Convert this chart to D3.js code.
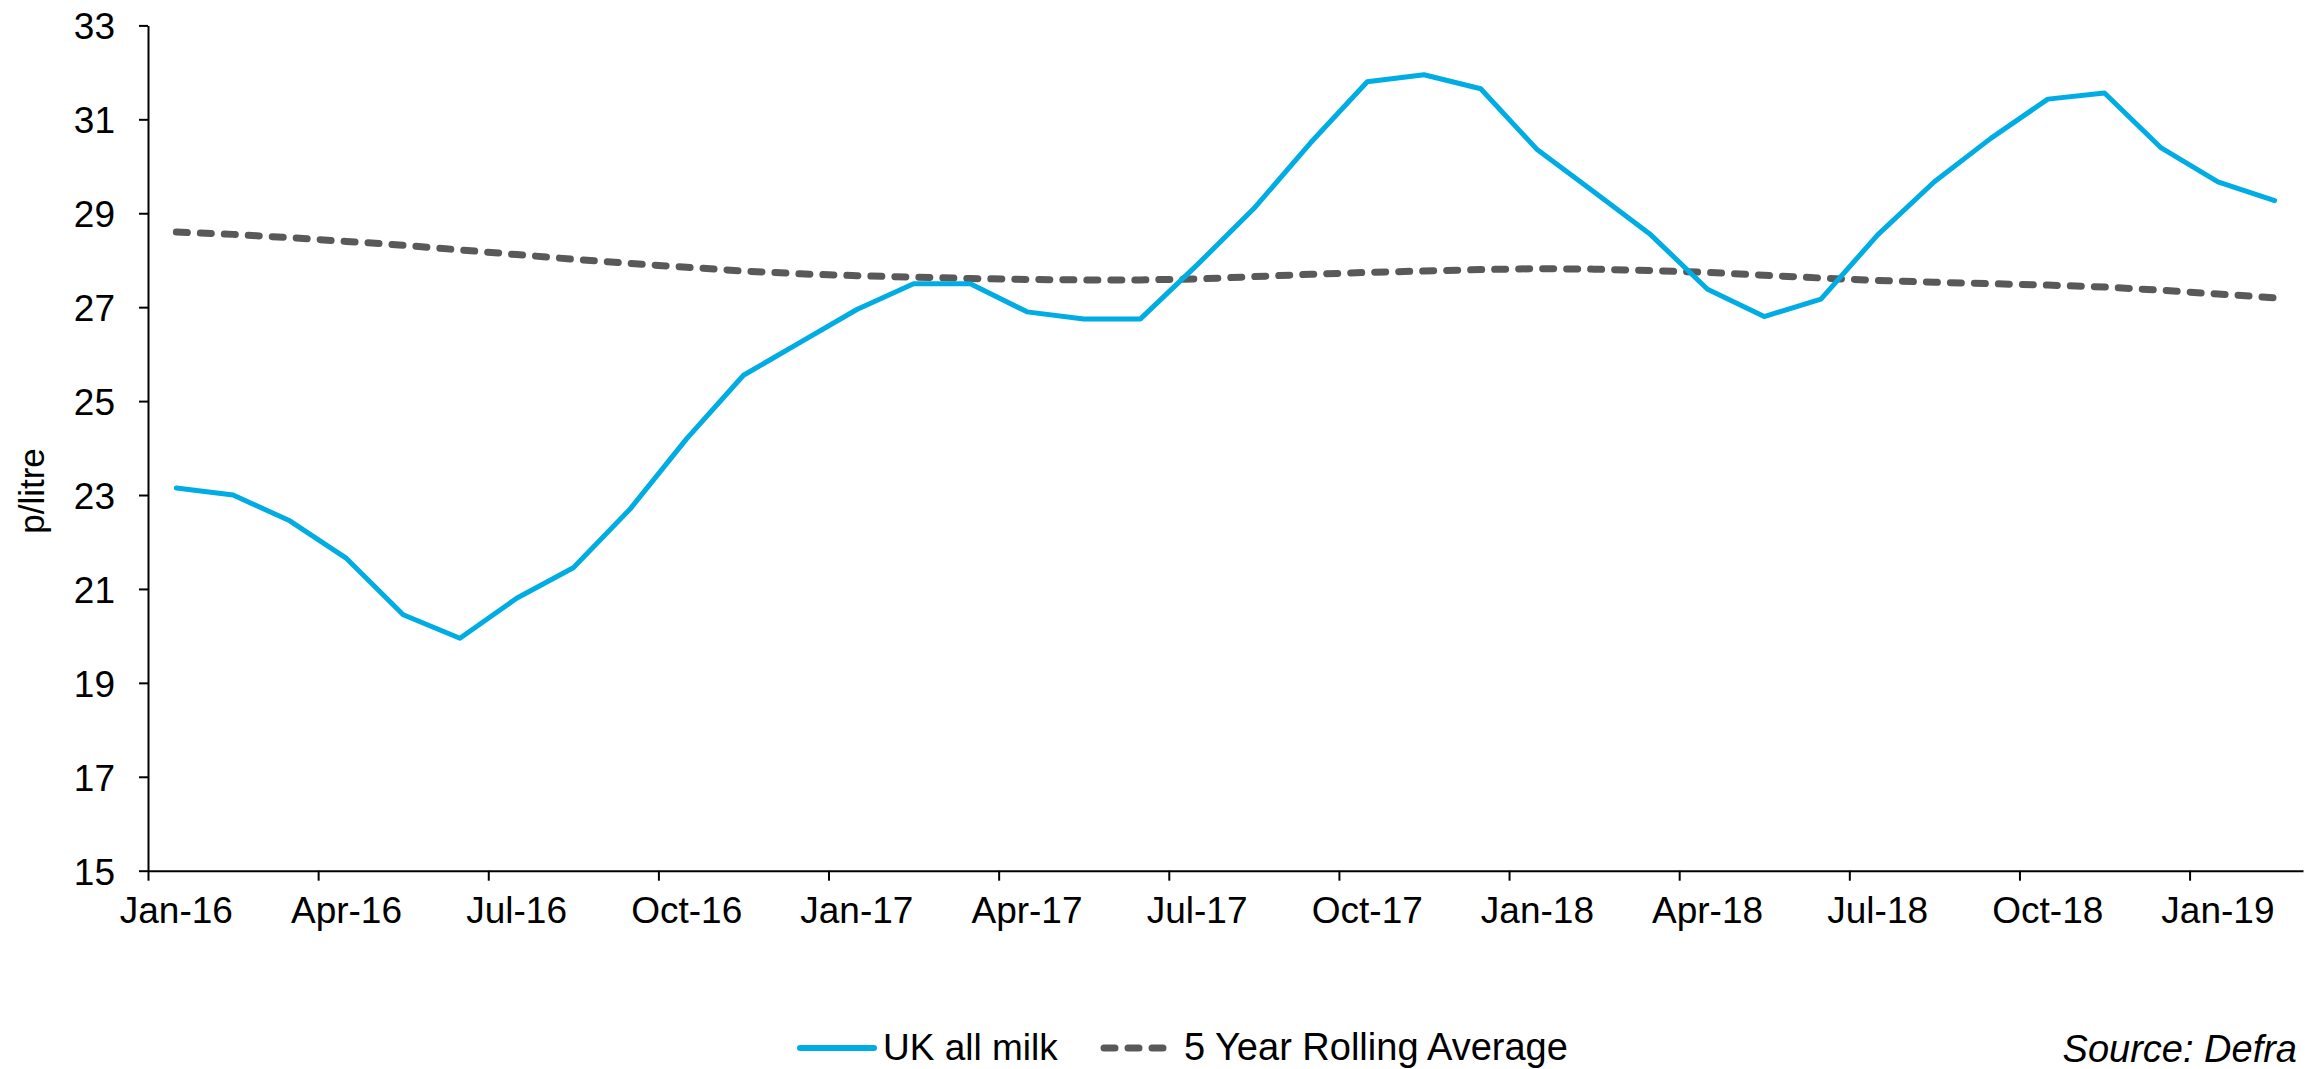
<!DOCTYPE html>
<html>
<head>
<meta charset="utf-8">
<script src="https://cdn.jsdelivr.net/npm/d3@7"></script>
<style>
  body { margin: 0; background: #fff; }
  svg text { font-family: "Liberation Sans", Arial, sans-serif; fill: #000; }
</style>
</head>
<body>
<svg id="chart"></svg>
<script>
// monthly categories Jan-16 .. Feb-19
var months = ["Jan-16","Feb-16","Mar-16","Apr-16","May-16","Jun-16","Jul-16","Aug-16","Sep-16","Oct-16","Nov-16","Dec-16",
  "Jan-17","Feb-17","Mar-17","Apr-17","May-17","Jun-17","Jul-17","Aug-17","Sep-17","Oct-17","Nov-17","Dec-17",
  "Jan-18","Feb-18","Mar-18","Apr-18","May-18","Jun-18","Jul-18","Aug-18","Sep-18","Oct-18","Nov-18","Dec-18",
  "Jan-19","Feb-19"];

var ukMilk = [23.15, 23.0, 22.45, 21.65, 20.45, 19.95, 20.8, 21.45, 22.7, 24.2, 25.55, 26.25,
  26.95, 27.5, 27.5, 26.9, 26.75, 26.75, 27.9, 29.1, 30.5, 31.8, 31.95, 31.65,
  30.35, 29.45, 28.54, 27.38, 26.8, 27.17, 28.54, 29.67, 30.6, 31.43, 31.56, 30.39,
  29.67, 29.27];

var rollingAvg = [28.6, 28.55, 28.48, 28.4, 28.32, 28.22, 28.12, 28.02, 27.93, 27.85, 27.77, 27.71,
  27.67, 27.64, 27.61, 27.59, 27.58, 27.58, 27.6, 27.65, 27.7, 27.74, 27.77, 27.8,
  27.82, 27.81, 27.78, 27.74, 27.68, 27.62, 27.57, 27.53, 27.5, 27.47, 27.43, 27.36,
  27.28, 27.2];

var yTicks = [15, 17, 19, 21, 23, 25, 27, 29, 31, 33];
var xTickIdx = [0, 3, 6, 9, 12, 15, 18, 21, 24, 27, 30, 33, 36];

var W = 2309, H = 1069;
var plotL = 148, plotR = 2303, plotT = 25.4, plotB = 870.7;
var blue = "#00ACE4", grey = "#595959";

var svg = d3.select("#chart").attr("width", W).attr("height", H);

var x = d3.scaleLinear().domain([0, months.length]).range([plotL, plotR]);
var y = d3.scaleLinear().domain([15, 33]).range([plotB, plotT]);

// y axis
var yAxis = d3.axisLeft(y).tickValues(yTicks).tickSize(9).tickSizeOuter(0).tickPadding(24);
var gy = svg.append("g").attr("transform", "translate(" + plotL + ",0)").call(yAxis);
gy.selectAll("text").style("font-size", "37px").attr("dy", "0.36em");
gy.selectAll("line, path").attr("stroke", "#000").attr("stroke-width", 2);

// x axis: ticks on quarter boundaries, labels centred on month
var xAxis = d3.axisBottom(x).tickValues(xTickIdx).tickSize(10).tickSizeOuter(0).tickFormat("");
var gx = svg.append("g").attr("transform", "translate(0," + plotB + ")").call(xAxis);
gx.selectAll("line, path").attr("stroke", "#000").attr("stroke-width", 2);

svg.append("g").selectAll("text")
  .data(xTickIdx)
  .enter().append("text")
  .attr("x", function (d) { return x(d + 0.5); })
  .attr("y", 923)
  .attr("text-anchor", "middle")
  .style("font-size", "37px")
  .text(function (d) { return months[d]; });

// y title
svg.append("text")
  .attr("transform", "translate(44,491) rotate(-90)")
  .attr("text-anchor", "middle")
  .style("font-size", "35px")
  .text("p/litre");

var line = d3.line()
  .x(function (d, i) { return x(i + 0.5); })
  .y(function (d) { return y(d); });

svg.append("path")
  .datum(rollingAvg)
  .attr("d", line)
  .attr("fill", "none")
  .attr("stroke", grey)
  .attr("stroke-width", 7)
  .attr("stroke-linecap", "round")
  .attr("stroke-dasharray", "11,13");

svg.append("path")
  .datum(ukMilk)
  .attr("d", line)
  .attr("fill", "none")
  .attr("stroke", blue)
  .attr("stroke-width", 5)
  .attr("stroke-linejoin", "round")
  .attr("stroke-linecap", "round");

// legend
var legY = 1048, textY = 1060;
svg.append("line")
  .attr("x1", 800).attr("x2", 874).attr("y1", legY).attr("y2", legY)
  .attr("stroke", blue).attr("stroke-width", 6).attr("stroke-linecap", "round");
svg.append("text").attr("x", 883).attr("y", textY).style("font-size", "37px").text("UK all milk");

svg.append("line")
  .attr("x1", 1104).attr("x2", 1172).attr("y1", legY).attr("y2", legY)
  .attr("stroke", grey).attr("stroke-width", 7).attr("stroke-linecap", "round")
  .attr("stroke-dasharray", "11,13");
svg.append("text").attr("x", 1184).attr("y", textY).style("font-size", "38px").text("5 Year Rolling Average");

svg.append("text")
  .attr("x", 2297).attr("y", 1062)
  .attr("text-anchor", "end")
  .style("font-size", "38px")
  .style("font-style", "italic")
  .text("Source: Defra");
</script>
</body>
</html>
